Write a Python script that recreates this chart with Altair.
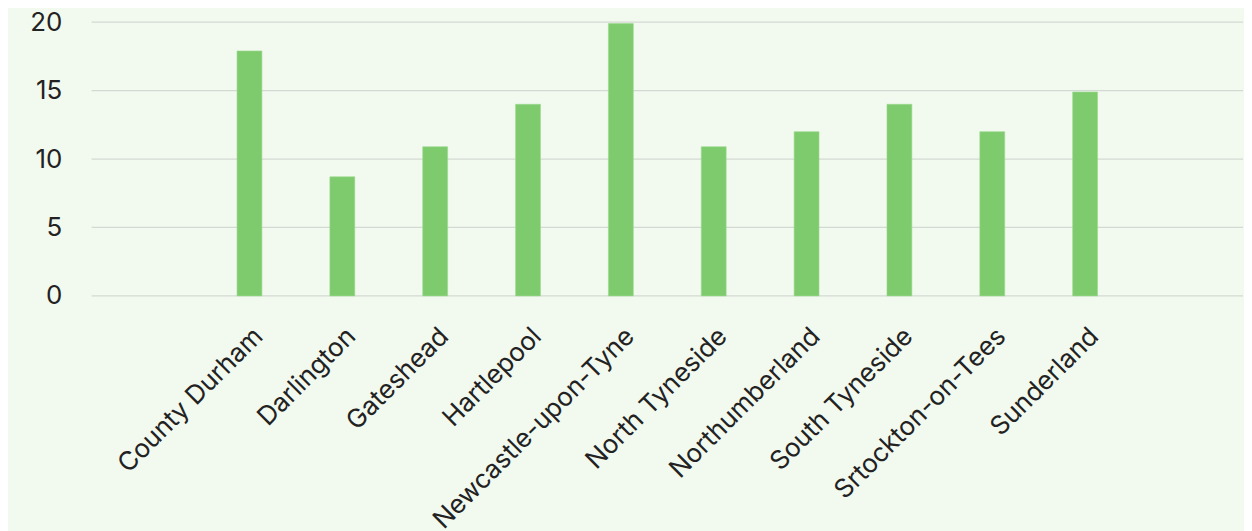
import altair as alt
import pandas as pd

areas = ["County Durham", "Darlington", "Gateshead", "Hartlepool", "Newcastle-upon-Tyne",
         "North Tyneside", "Northumberland", "South Tyneside", "Srtockton-on-Tees", "Sunderland"]
values = [17.9, 8.7, 10.9, 14.0, 19.9, 10.9, 12.0, 14.0, 12.0, 14.9]
y_ticks = [0, 5, 10, 15, 20]

df = pd.DataFrame({"area": areas, "value": values})
grid_df = pd.DataFrame({"g": y_ticks})

yscale = alt.Scale(domain=[0, 20], nice=False)
yaxis = alt.Axis(values=y_ticks, ticks=False, domain=False, grid=False,
                 labelFontSize=26, labelFont="Inter", labelColor="#222222",
                 labelPadding=30)

grid = alt.Chart(grid_df).mark_rule(color="#d3dad3", strokeWidth=1.2).encode(
    y=alt.Y("g:Q", scale=yscale, axis=yaxis, title=None),
    x=alt.value(0),
    x2=alt.value("width"),
)

bars = alt.Chart(df).mark_bar(size=25, color="#7ecb6e", stroke="#9ad98c", strokeWidth=0.6).encode(
    x=alt.X("area:N", sort=areas, title=None,
            scale=alt.Scale(paddingInner=0, paddingOuter=0, range=[112, 1045]),
            axis=alt.Axis(labelAngle=-45, labelAlign="right", labelBaseline="top",
                          labelPadding=27, ticks=False, domain=False, grid=False, labelLimit=0,
                          labelFontSize=26, labelFont="Inter", labelColor="#222222")),
    y=alt.Y("value:Q", title=None, scale=yscale, axis=yaxis),
)

chart = alt.layer(grid, bars).properties(
    width=1157, height=275, background="#f2f9ef",
    padding={"left": 21, "top": 0, "right": 0, "bottom": 0}
).configure_view(stroke=None)

chart.save("out.html", embed_options={"renderer": "svg", "actions": False})
